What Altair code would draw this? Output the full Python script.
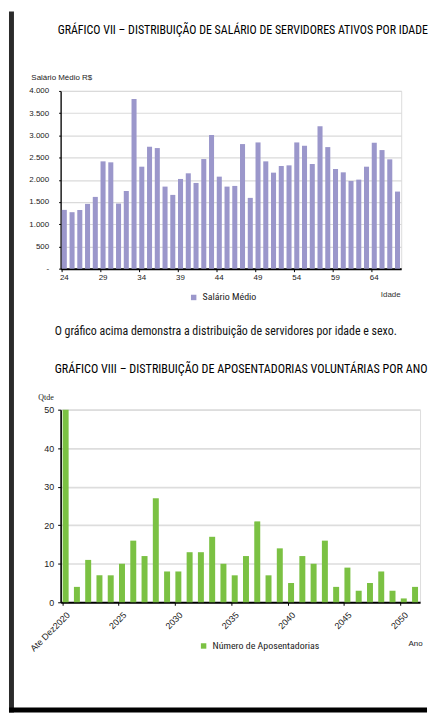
import altair as alt
import pandas as pd

# ---------------- data ----------------
idades = [24, 25, 26, 27, 28, 29, 30, 31, 32, 33, 34, 35, 36, 37, 38, 39, 40, 41, 42, 43, 44, 45,
          46, 47, 48, 49, 50, 51, 52, 53, 54, 55, 56, 57, 58, 59, 60, 61, 62, 63, 64, 65, 66, 67]
salario_medio = [1323, 1271, 1323, 1458, 1615, 2415, 2393, 1465, 1750, 3821, 2295, 2744, 2714,
                 1847, 1660, 2019, 2146, 1929, 2467, 3006, 2071, 1847, 1862, 2804, 1593, 2841,
                 2415, 2161, 2310, 2325, 2841, 2766, 2355, 3207, 2736, 2243, 2168, 1974, 2004,
                 2295, 2834, 2669, 2460, 1735]
idade_ticks = [24, 29, 34, 39, 44, 49, 54, 59, 64]
salario_ticks = [0, 500, 1000, 1500, 2000, 2500, 3000, 3500, 4000]

anos = ["Ate Dez2020", "2021", "2022", "2023", "2024", "2025", "2026", "2027", "2028", "2029",
        "2030", "2031", "2032", "2033", "2034", "2035", "2036", "2037", "2038", "2039", "2040",
        "2041", "2042", "2043", "2044", "2045", "2046", "2047", "2048", "2049", "2050", "2051"]
aposentadorias = [50, 4, 11, 7, 7, 10, 16, 12, 27, 8, 8, 13, 13, 17, 10, 7, 12, 21, 7, 14, 5,
                  12, 10, 16, 4, 9, 3, 5, 8, 3, 1, 4]
ano_ticks = ["Ate Dez2020", "2025", "2030", "2035", "2040", "2045", "2050"]
qtde_ticks = [0, 10, 20, 30, 40, 50]

PURPLE = "#9b97cb"
GREEN = "#7bc143"
FONT = "Liberation Sans Narrow, Arial Narrow, Roboto Condensed, sans-serif"

df1 = pd.DataFrame({"Idade": idades, "Salario": salario_medio, "serie": "Salário Médio"})
df2 = pd.DataFrame({"Ano": anos, "Qtde": aposentadorias, "serie": "Número de Aposentadorias"})
frame_df = pd.DataFrame({"k": [0]})

# ---------------- chart 1 ----------------
bars1 = alt.Chart(df1).mark_bar().encode(
    x=alt.X("Idade:O", sort=idades,
            scale=alt.Scale(paddingInner=0.35, paddingOuter=0.15),
            axis=alt.Axis(values=idade_ticks, bandPosition=0, labelAngle=0,
                          title="Idade", titleX=342, titleY=26, titleAlign="right",
                          titleBaseline="middle", titleFontSize=8, titleFontWeight="normal",
                          titleColor="#333", labelFontSize=8, labelColor="#222",
                          tickSize=3, tickColor="black", domainColor="black", domainWidth=2,
                          labelPadding=2, grid=False)),
    y=alt.Y("Salario:Q", scale=alt.Scale(domain=[0, 4000], nice=False),
            axis=alt.Axis(values=salario_ticks,
                          labelExpr="datum.value == 0 ? '-' : replace(format(datum.value, ','), ',', '.')",
                          title="Salário Médio R$", titleAngle=0, titleX=-30, titleY=-14,
                          titleAlign="left", titleBaseline="middle", titleFontSize=8,
                          titleFontWeight="normal", titleColor="#222",
                          labelFontSize=8, labelColor="#222", tickSize=2, tickColor="black",
                          labelPadding=10, domainColor="black", domainWidth=1.3,
                          grid=True, gridColor="#dadada", gridWidth=1.2)),
    color=alt.Color("serie:N", scale=alt.Scale(range=[PURPLE]),
                    legend=alt.Legend(orient="none", legendX=129, legendY=203, title=None,
                                      symbolType="square", symbolSize=30, symbolStrokeWidth=0,
                                      labelFont=FONT, labelFontSize=10, labelColor="#222")),
)

# decorative page frame (dark bar on the left, black bar at the bottom)
left_bar = alt.Chart(frame_df).mark_rect(color="#2b2b2b").encode(
    x=alt.value(-52), x2=alt.value(-47), y=alt.value(-80), y2=alt.value(626))
bottom_bar = alt.Chart(frame_df).mark_rect(color="black").encode(
    x=alt.value(-52), x2=alt.value(369), y=alt.value(621), y2=alt.value(626))

chart1 = alt.layer(bars1, left_bar, bottom_bar).properties(
    width=343, height=179,
    title=alt.TitleParams(
        text="GRÁFICO VII – DISTRIBUIÇÃO DE SALÁRIO DE SERVIDORES ATIVOS POR IDADE",
        anchor="start", frame="group", dx=-3, offset=-26,
        font=FONT, fontSize=12, fontWeight="normal", color="black"),
)

# ---------------- chart 2 ----------------
chart2 = alt.Chart(df2).mark_bar().encode(
    x=alt.X("Ano:O", sort=anos,
            scale=alt.Scale(paddingInner=0.47, paddingOuter=0.18),
            axis=alt.Axis(values=ano_ticks, bandPosition=0, labelAngle=-45,
                          title="Ano", titleX=364, titleY=42, titleAlign="right",
                          titleBaseline="middle", titleFontSize=8, titleFontWeight="normal",
                          titleColor="#222", labelFontSize=9, labelColor="#222",
                          tickSize=3, tickColor="black", domainColor="black", domainWidth=2,
                          labelPadding=5, grid=False)),
    y=alt.Y("Qtde:Q", scale=alt.Scale(domain=[0, 50], nice=False),
            axis=alt.Axis(values=qtde_ticks, title="Qtde", titleAngle=0, titleX=-23,
                          titleY=-12, titleAlign="left", titleBaseline="middle",
                          titleFont="Liberation Serif", titleFontSize=8,
                          titleFontWeight="normal", titleColor="#222",
                          labelFontSize=9, labelColor="#222", tickSize=3, tickColor="black",
                          labelPadding=4, domainColor="black", domainWidth=1.6,
                          grid=True, gridColor="#dddddd", gridWidth=1.6)),
    color=alt.Color("serie:N", scale=alt.Scale(range=[GREEN]),
                    legend=alt.Legend(orient="none", legendX=139, legendY=233, title=None,
                                      symbolType="square", symbolSize=30, symbolStrokeWidth=0,
                                      labelFont=FONT, labelFontSize=10, labelColor="#222")),
).properties(
    width=362, height=194,
    title=alt.TitleParams(
        text="O gráfico acima demonstra a distribuição de servidores por idade e sexo.",
        subtitle="GRÁFICO VIII – DISTRIBUIÇÃO DE APOSENTADORIAS VOLUNTÁRIAS POR ANO",
        anchor="start", frame="group", dx=-6, offset=18, subtitlePadding=25,
        font=FONT, fontSize=12, fontWeight="normal", color="#111",
        subtitleFont=FONT, subtitleFontSize=12.2, subtitleColor="black"),
)

chart = alt.vconcat(chart1, chart2, spacing=142, bounds="flush").resolve_scale(
    color="independent"
).properties(
    padding={"left": 0, "top": 0, "right": 0, "bottom": 0},
).configure_view(
    stroke="#d9d9d9", strokeWidth=1.2
).configure_axis(
    labelFont=FONT, titleFont=FONT
).configure(background="white")

chart.save("out.html", embed_options={"renderer": "svg", "actions": False})
